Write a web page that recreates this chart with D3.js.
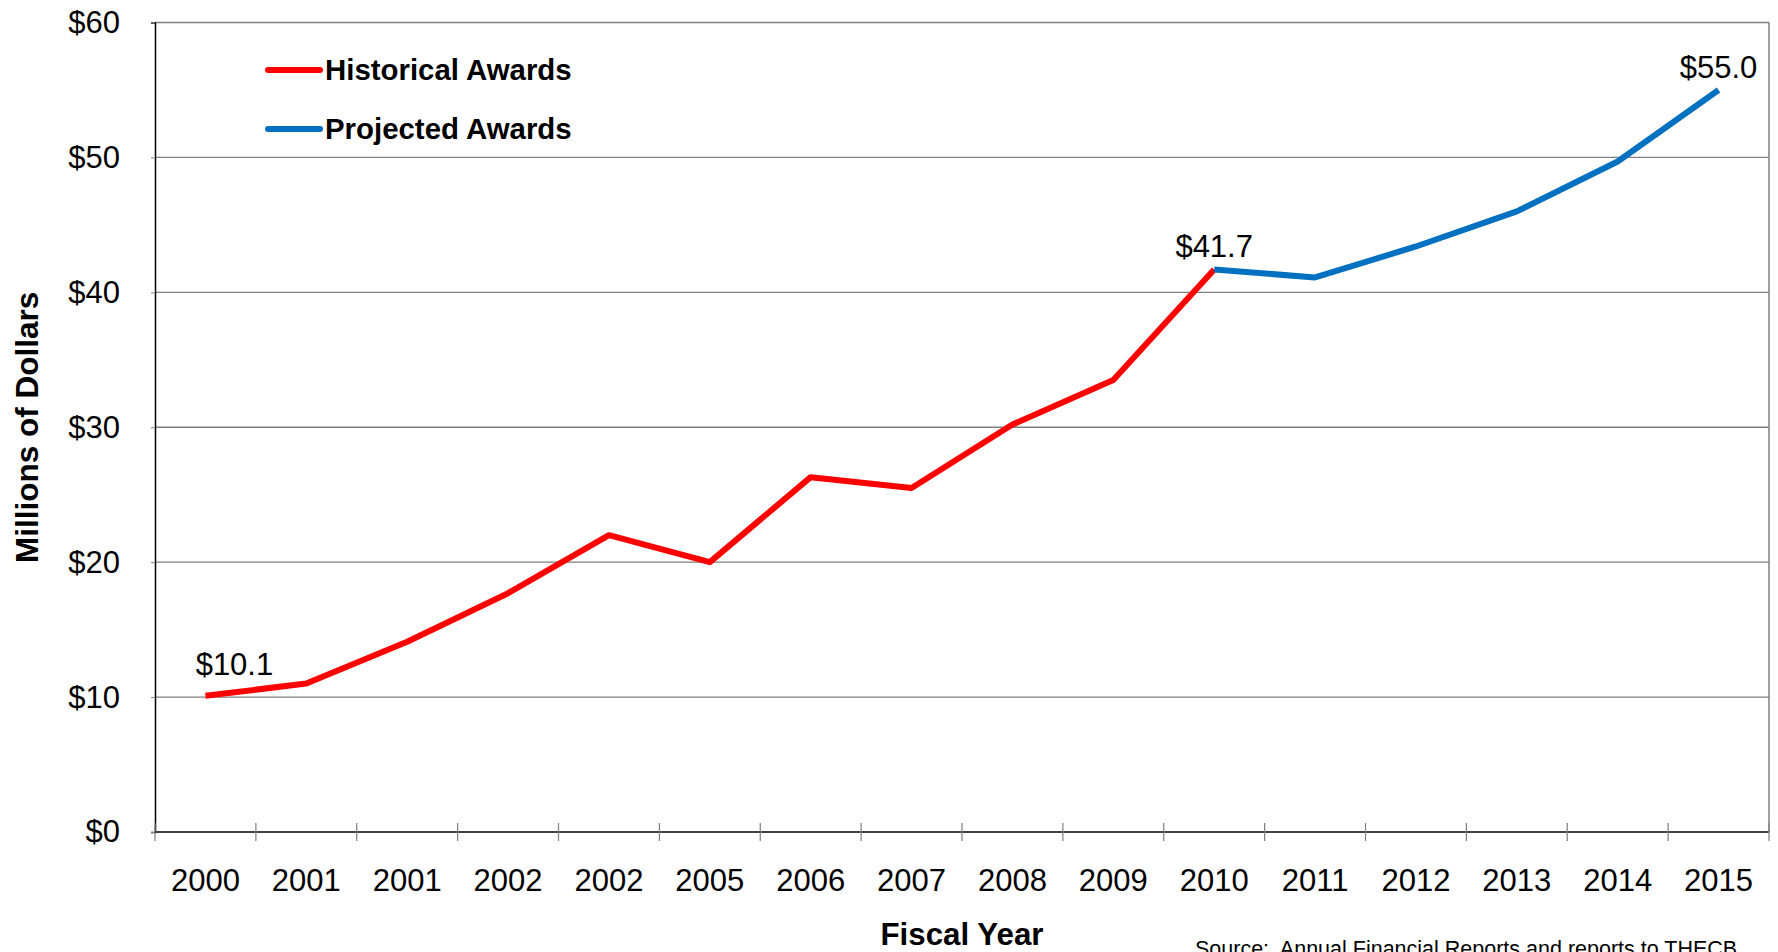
<!DOCTYPE html>
<meta charset="utf-8">
<html>
<head>
<script src="https://cdn.jsdelivr.net/npm/d3@7/dist/d3.min.js"></script>
<style>
  body { margin: 0; background: #fff; }
  text { font-family: "Liberation Sans", Arial, sans-serif; fill: #000; }
</style>
</head>
<body>
<div id="chart"></div>
<script>
// data
const years = ["2000","2001","2001","2002","2002","2005","2006","2007","2008","2009","2010","2011","2012","2013","2014","2015"];
const historical = [10.1, 11.0, 14.1, 17.7, 22.0, 20.0, 26.3, 25.5, 30.2, 33.5, 41.7];
const projected = [41.7, 41.1, 43.4, 46.0, 49.7, 55.0];   // 2010 .. 2015
const projStart = 10;
const yTicks = [0, 10, 20, 30, 40, 50, 60];
const labelled = [0, 10, 15];   // points that carry a value label

const width = 1778, height = 952;
const margin = {top: 22.5, right: 9, bottom: 120, left: 155};

const svg = d3.select("#chart").append("svg")
    .attr("width", width).attr("height", height);

const x = d3.scaleBand()
    .domain(d3.range(years.length))
    .range([margin.left, width - margin.right])
    .paddingInner(0).paddingOuter(0);
const y = d3.scaleLinear().domain([0, 60]).range([height - margin.bottom, margin.top]);
const cx = i => x(i) + x.bandwidth() / 2;

// gridlines
svg.append("g").selectAll("line")
  .data(yTicks.filter(d => d > 0))
  .enter().append("line")
    .attr("x1", margin.left).attr("x2", width - margin.right)
    .attr("y1", d => y(d)).attr("y2", d => y(d))
    .attr("stroke", "#808080").attr("stroke-width", 1.3);

// right frame
svg.append("line")
  .attr("x1", width - margin.right).attr("x2", width - margin.right)
  .attr("y1", y(60)).attr("y2", y(0))
  .attr("stroke", "#808080").attr("stroke-width", 1.5);

// y axis
const yAxis = svg.append("g")
  .attr("transform", `translate(${margin.left},0)`)
  .call(d3.axisLeft(y).tickValues(yTicks).tickSize(4).tickPadding(31).tickFormat(d => "$" + d));
yAxis.select(".domain").attr("stroke", "#000").attr("stroke-width", 1.5);
yAxis.selectAll(".tick line").attr("stroke", "#808080");
yAxis.selectAll("text").attr("font-size", 31).attr("font-family", "Liberation Sans, Arial, sans-serif");

// x axis: ticks sit on band boundaries
const xg = svg.append("g").attr("transform", `translate(0,${y(0)})`);
xg.append("line")
  .attr("x1", margin.left).attr("x2", width - margin.right)
  .attr("stroke", "#000").attr("stroke-width", 1.5);
xg.selectAll(".xtick")
  .data(d3.range(years.length + 1))
  .enter().append("line")
    .attr("x1", i => i < years.length ? x(i) : width - margin.right)
    .attr("x2", i => i < years.length ? x(i) : width - margin.right)
    .attr("y1", -9).attr("y2", 9)
    .attr("stroke", "#808080").attr("stroke-width", 1.2);
xg.selectAll(".xlabel")
  .data(years)
  .enter().append("text")
    .attr("x", (d, i) => cx(i))
    .attr("y", 59)
    .attr("text-anchor", "middle")
    .attr("font-size", 31)
    .text(d => d);

// lines
const line = d3.line().x(d => cx(d.i)).y(d => y(d.v));
svg.append("path")
  .datum(historical.map((v, i) => ({i: i, v: v})))
  .attr("d", line)
  .attr("fill", "none").attr("stroke", "#FF0000").attr("stroke-width", 6)
  .attr("stroke-linejoin", "round");
svg.append("path")
  .datum(projected.map((v, i) => ({i: i + projStart, v: v})))
  .attr("d", line)
  .attr("fill", "none").attr("stroke", "#0070C0").attr("stroke-width", 6)
  .attr("stroke-linejoin", "round");

// value labels
const valueAt = i => i < projStart ? historical[i] : projected[i - projStart];
svg.append("g").selectAll("text")
  .data(labelled)
  .enter().append("text")
    .attr("x", i => cx(i) + (i === 0 ? 29 : 0))
    .attr("y", i => y(valueAt(i)) - (i === 0 ? 21 : 12))
    .attr("text-anchor", "middle")
    .attr("font-size", 31)
    .text(i => "$" + d3.format(".1f")(valueAt(i)));

// legend
const legend = [{name: "Historical Awards", color: "#FF0000"}, {name: "Projected Awards", color: "#0070C0"}];
const lg = svg.append("g").selectAll("g")
  .data(legend).enter().append("g")
  .attr("transform", (d, i) => `translate(268,${70 + i * 59})`);
lg.append("line")
  .attr("x1", 0).attr("x2", 52)
  .attr("stroke", d => d.color).attr("stroke-width", 6)
  .attr("stroke-linecap", "round");
lg.append("text")
  .attr("x", 57).attr("y", 10)
  .attr("font-size", 29.4).attr("font-weight", "bold")
  .text(d => d.name);

// axis titles
svg.append("text")
  .attr("transform", `translate(38,${(y(0) + y(60)) / 2}) rotate(-90)`)
  .attr("text-anchor", "middle")
  .attr("font-size", 31.5).attr("font-weight", "bold")
  .text("Millions of Dollars");
svg.append("text")
  .attr("x", (margin.left + width - margin.right) / 2)
  .attr("y", 945)
  .attr("text-anchor", "middle")
  .attr("font-size", 31.3).attr("font-weight", "bold")
  .text("Fiscal Year");

// source note
svg.append("text")
  .attr("x", 1195).attr("y", 956)
  .attr("font-size", 21.5)
  .style("white-space", "pre")
  .text("Source:  Annual Financial Reports and reports to THECB");
</script>
</body>
</html>
